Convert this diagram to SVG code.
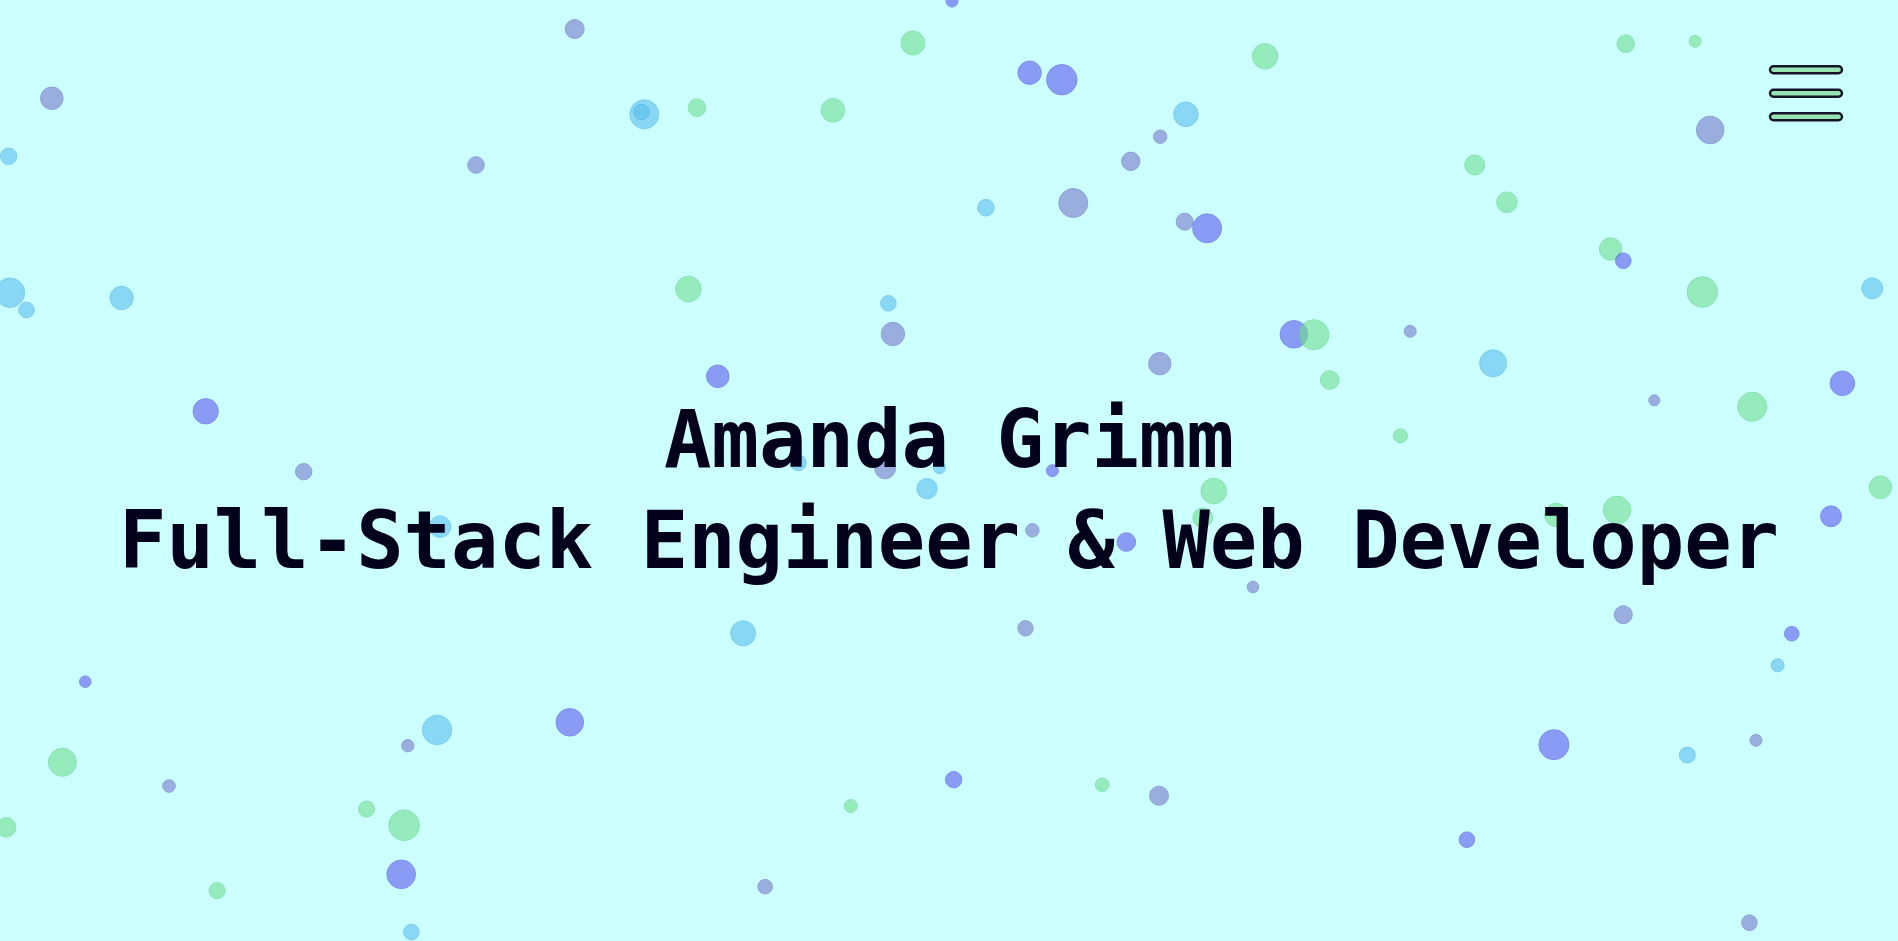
<svg xmlns="http://www.w3.org/2000/svg" width="1898" height="941" viewBox="0 0 1898 941">
<style>
.b{opacity:.6;stroke-width:1}
.g{fill:#72DF8E;stroke:#5FCF7E}
.l{fill:#5BBEED;stroke:#4AAEE0}
.p{fill:#5E5AED;stroke:#4A48E0}
.q{fill:#7978CB;stroke:#6665BD}
.t{font-family:"DejaVu Sans Mono","Liberation Mono",monospace;font-weight:bold;font-size:80px;fill:#03001C;text-anchor:middle}
.bar{fill:#96E4B4;stroke:#141428;stroke-width:2.4}
</style>
<rect width="1898" height="941" fill="#CCFFFF"/>
<g id="bubbles">
<circle class="b q" cx="574.7" cy="29" r="9.5"/>
<circle class="b q" cx="51.8" cy="98.3" r="11.3"/>
<circle class="b l" cx="8.6" cy="156.3" r="8.2"/>
<circle class="b l" cx="644.3" cy="114.3" r="14.5"/>
<circle class="b l" cx="641.4" cy="112" r="7.7"/>
<circle class="b q" cx="476" cy="165" r="8.3"/>
<circle class="b l" cx="10" cy="292.7" r="14.7"/>
<circle class="b l" cx="26.5" cy="310" r="7.8"/>
<circle class="b l" cx="121.6" cy="298" r="11.7"/>
<circle class="b p" cx="205.7" cy="411.3" r="12.7"/>
<circle class="b q" cx="303.7" cy="471.7" r="8.2"/>
<circle class="b p" cx="952" cy="1" r="6"/>
<circle class="b g" cx="912.9" cy="43" r="12"/>
<circle class="b g" cx="1265" cy="56.3" r="12.7"/>
<circle class="b p" cx="1029.6" cy="72.7" r="11.7"/>
<circle class="b p" cx="1061.8" cy="79.7" r="15.2"/>
<circle class="b g" cx="697" cy="107.7" r="8.8"/>
<circle class="b g" cx="832.9" cy="110.3" r="11.8"/>
<circle class="b l" cx="1185.9" cy="114.3" r="12.3"/>
<circle class="b q" cx="1160.2" cy="136.7" r="6.7"/>
<circle class="b q" cx="1130.8" cy="161.3" r="9.2"/>
<circle class="b l" cx="985.9" cy="207.7" r="8.3"/>
<circle class="b q" cx="1073.3" cy="203" r="14.5"/>
<circle class="b q" cx="1184.7" cy="221.7" r="8.5"/>
<circle class="b p" cx="1207.1" cy="228.3" r="14.5"/>
<circle class="b g" cx="688.4" cy="289" r="12.8"/>
<circle class="b l" cx="888.4" cy="303.3" r="7.8"/>
<circle class="b q" cx="892.9" cy="334" r="11.7"/>
<circle class="b q" cx="1159.8" cy="363.7" r="11.2"/>
<circle class="b p" cx="717.8" cy="376.3" r="11.3"/>
<circle class="b l" cx="798.2" cy="462.7" r="8"/>
<circle class="b q" cx="885.1" cy="468.3" r="10.5"/>
<circle class="b l" cx="939.4" cy="467.7" r="6"/>
<circle class="b p" cx="1052.4" cy="470.7" r="6"/>
<circle class="b l" cx="927" cy="488.7" r="10.2"/>
<circle class="b g" cx="1213.7" cy="491" r="12.8"/>
<circle class="b g" cx="1625.7" cy="43.7" r="8.8"/>
<circle class="b g" cx="1695.1" cy="41.3" r="6"/>
<circle class="b q" cx="1710.2" cy="130" r="13.8"/>
<circle class="b g" cx="1474.7" cy="165" r="10"/>
<circle class="b g" cx="1506.9" cy="202.3" r="10.3"/>
<circle class="b g" cx="1610.6" cy="249" r="11.2"/>
<circle class="b p" cx="1623.3" cy="260.7" r="7.8"/>
<circle class="b g" cx="1702.4" cy="292" r="15.3"/>
<circle class="b l" cx="1872.2" cy="288.3" r="10.5"/>
<circle class="b p" cx="1293.9" cy="334.3" r="13.8"/>
<circle class="b g" cx="1313.9" cy="334.7" r="15"/>
<circle class="b q" cx="1410.2" cy="331.3" r="6"/>
<circle class="b l" cx="1493.1" cy="363.3" r="13.5"/>
<circle class="b g" cx="1329.8" cy="380" r="9.3"/>
<circle class="b p" cx="1842.4" cy="383.3" r="12.3"/>
<circle class="b q" cx="1654.3" cy="400.3" r="5.5"/>
<circle class="b g" cx="1752.2" cy="406.7" r="14.5"/>
<circle class="b g" cx="1400.4" cy="435.7" r="7"/>
<circle class="b g" cx="1880.4" cy="487.3" r="11.3"/>
<circle class="b l" cx="440" cy="526.7" r="10.8"/>
<circle class="b p" cx="85.3" cy="681.7" r="5.8"/>
<circle class="b l" cx="437.1" cy="730" r="14.7"/>
<circle class="b q" cx="407.8" cy="745.7" r="6.2"/>
<circle class="b p" cx="569.8" cy="722.3" r="13.8"/>
<circle class="b g" cx="62.4" cy="762.3" r="14"/>
<circle class="b q" cx="169" cy="786" r="6.3"/>
<circle class="b g" cx="6.1" cy="827.3" r="9.7"/>
<circle class="b g" cx="366.5" cy="809" r="8"/>
<circle class="b g" cx="404.1" cy="825.3" r="15.3"/>
<circle class="b p" cx="401.2" cy="874.3" r="14.3"/>
<circle class="b g" cx="217.1" cy="890.7" r="8"/>
<circle class="b l" cx="411.4" cy="932" r="7.8"/>
<circle class="b g" cx="1202.7" cy="517.7" r="9.8"/>
<circle class="b q" cx="1032.4" cy="530.3" r="6.7"/>
<circle class="b p" cx="1126.3" cy="542" r="9.3"/>
<circle class="b q" cx="1252.9" cy="587" r="5.8"/>
<circle class="b l" cx="743.1" cy="633.3" r="12.5"/>
<circle class="b q" cx="1025.5" cy="628.3" r="7.7"/>
<circle class="b p" cx="953.7" cy="779.7" r="8.2"/>
<circle class="b g" cx="850.8" cy="806" r="6.5"/>
<circle class="b g" cx="1102.2" cy="784.7" r="6.8"/>
<circle class="b q" cx="1159" cy="795.7" r="9.5"/>
<circle class="b q" cx="765.1" cy="886.7" r="7.3"/>
<circle class="b g" cx="1556.3" cy="515" r="11.7"/>
<circle class="b g" cx="1617.1" cy="510" r="13.8"/>
<circle class="b p" cx="1831" cy="516.3" r="10.5"/>
<circle class="b q" cx="1623.3" cy="614.7" r="9"/>
<circle class="b p" cx="1791.8" cy="633.7" r="7.3"/>
<circle class="b l" cx="1777.6" cy="665.3" r="6.5"/>
<circle class="b p" cx="1553.9" cy="744.7" r="15"/>
<circle class="b l" cx="1687.3" cy="755" r="8"/>
<circle class="b q" cx="1755.9" cy="740.3" r="6"/>
<circle class="b p" cx="1466.9" cy="839.7" r="7.8"/>
<circle class="b q" cx="1749.4" cy="922.7" r="7.8"/>
</g>
<g id="title">
<text class="t" x="949" y="467" textLength="570" lengthAdjust="spacingAndGlyphs">Amanda Grimm</text>
<text class="t" x="949" y="568" textLength="1660" lengthAdjust="spacingAndGlyphs">Full-Stack Engineer &amp; Web Developer</text>
</g>
<g id="menu">
<rect class="bar" x="1770" y="66.2" width="72" height="7" rx="3.5"/>
<rect class="bar" x="1770" y="89.7" width="72" height="7" rx="3.5"/>
<rect class="bar" x="1770" y="113.3" width="72" height="7" rx="3.5"/>
</g>
</svg>
